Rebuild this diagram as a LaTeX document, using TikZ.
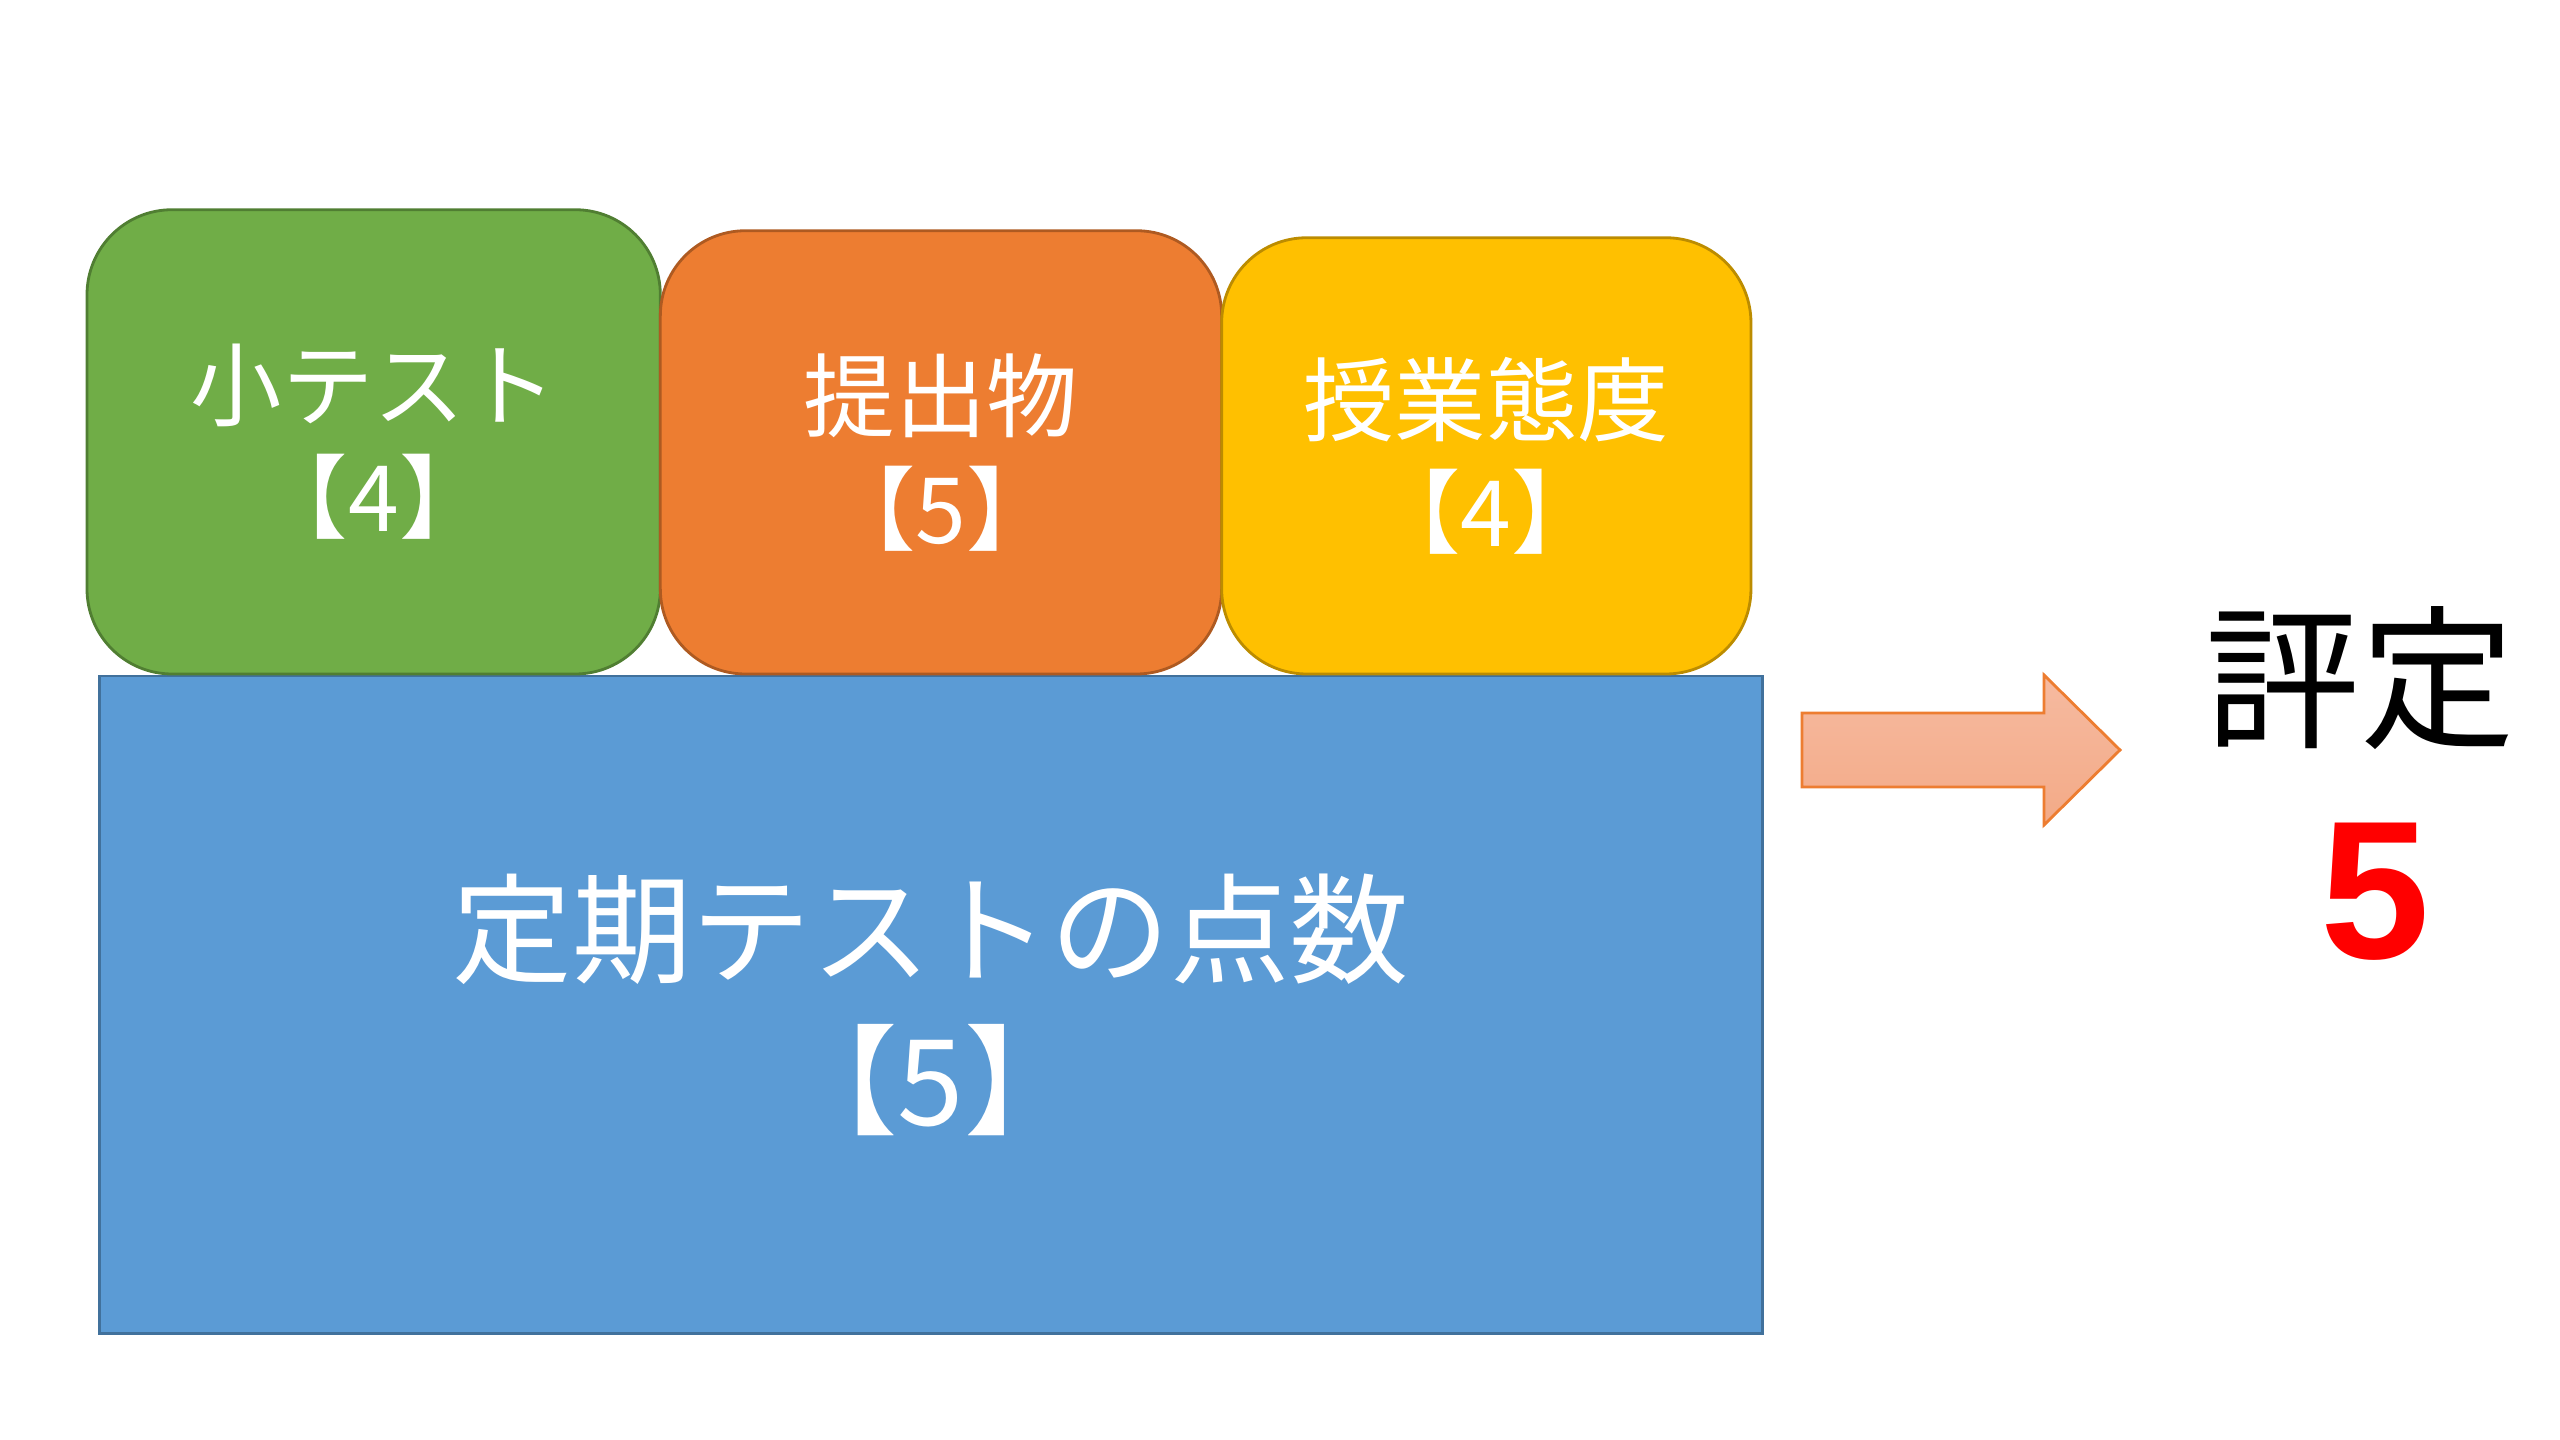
\documentclass[tikz,border=0pt]{standalone}
\usepackage{fontspec}
\setmainfont{Noto Sans CJK JP}
\newfontfamily\numfont{Liberation Sans}
\usepackage{tikz}
\usetikzlibrary{positioning}
\usepackage{xcolor}
\definecolor{gkgreen}{RGB}{112,173,71}
\definecolor{gkgreendark}{RGB}{80,126,50}
\definecolor{gkorange}{RGB}{237,125,49}
\definecolor{gkorangedark}{RGB}{174,90,33}
\definecolor{gkyellow}{RGB}{255,192,0}
\definecolor{gkyellowdark}{RGB}{188,140,0}
\definecolor{gkblue}{RGB}{91,155,213}
\definecolor{gkbluedark}{RGB}{65,113,156}
\definecolor{gkarrowtop}{RGB}{246,186,160}
\definecolor{gkarrowbottom}{RGB}{243,170,135}
\tikzstyle{scorebox} = [rectangle, rounded corners=0.85cm, text centered, align=center, thick, text=white, inner sep=0pt, outer sep=0pt, font=\fontsize{26pt}{32pt}\selectfont]
\tikzstyle{bigarrow} = [draw=gkorange, thick, top color=gkarrowtop, bottom color=gkarrowbottom]

\begin{document}
\begin{tikzpicture}[x=0.01cm, y=-0.01cm]
    \useasboundingbox (0,0) rectangle (2560,1440);
    % Nodes
    \node[scorebox, rounded corners=0pt, fill=gkblue, draw=gkbluedark, minimum width=16.62cm, minimum height=6.57cm, anchor=north west, font=\fontsize{34pt}{43pt}\selectfont] (teiki) at (99.5,676) {定期テストの点数\\【5】};
    \node[scorebox, fill=gkgreen, draw=gkgreendark, minimum width=5.73cm, minimum height=4.64cm, anchor=south west] (shotest) at (87,674) {小テスト\\【4】};
    \node[scorebox, fill=gkorange, draw=gkorangedark, minimum width=5.61cm, minimum height=4.43cm, anchor=south west] (teishutsu) at (shotest.south east) {提出物\\【5】};
    \node[scorebox, fill=gkyellow, draw=gkyellowdark, minimum width=5.29cm, minimum height=4.36cm, anchor=south west] (taido) at (teishutsu.south east) {授業態度\\【4】};
    \node[font=\fontsize{44pt}{50pt}\selectfont] (hyotei) at (2360,678) {評定};
    \node[font=\fontsize{56pt}{64pt}\selectfont\numfont\bfseries, text=red] (hyotei5) at (2375,892) {5};

    % Arrows
    \draw[bigarrow] (1802,713) -- (2044,713) -- (2044,675) -- (2120,750) -- (2044,825) -- (2044,787) -- (1802,787) -- cycle;
\end{tikzpicture}
\end{document}
